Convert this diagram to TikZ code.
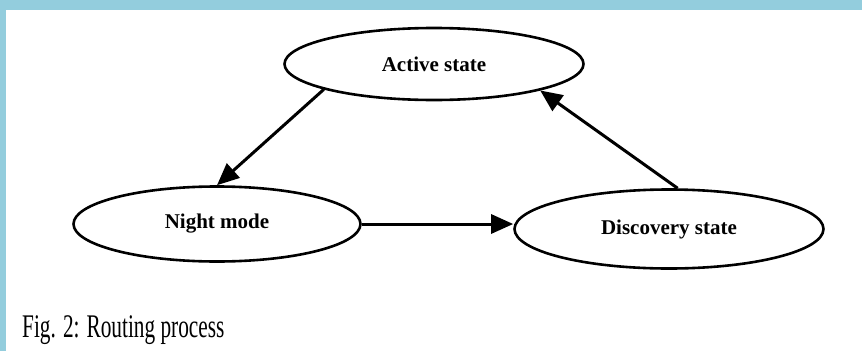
\documentclass[tikz,border=0pt]{standalone}
\usepackage{fontspec}
\setmainfont{Liberation Serif}
\usetikzlibrary{shapes.geometric,arrows.meta}
\definecolor{frameblue}{HTML}{93CDDD}
\begin{document}
\begin{tikzpicture}[x=1pt,y=-1pt,
  statebox/.style={ellipse,draw,line width=2.6pt,inner sep=0pt,
    font=\fontsize{21}{24}\selectfont\bfseries},
  flow/.style={line width=3pt,-{Triangle[length=22pt,width=19pt]}}]
  % frame: blue band on top and left edge
  \fill[frameblue] (0,0) rectangle (862,351);
  \fill[white] (6,10) rectangle (862,351);
  \useasboundingbox (0,0) rectangle (862,351);
  % states
  \node[statebox,minimum width=299pt,minimum height=72pt] (act) at (434,64) {Active state};
  \node[statebox,minimum width=287pt,minimum height=75pt] (night) at (217,224) {Night mode};
  \node[statebox,minimum width=309pt,minimum height=79pt] (disc) at (669,229) {Discovery state};
  % transitions
  \draw[flow] (act.193) -- (night.north);
  \draw[flow] (night.east) -- (night.east -| disc.west);
  \draw[flow] (disc.78) -- (act.-14);
  % caption
  \node[anchor=base west,inner sep=0pt] (cap) at (22,337)
    {\scalebox{0.645}[1]{\fontsize{33}{38}\selectfont Fig. 2: Routing process}};
\end{tikzpicture}
\end{document}
